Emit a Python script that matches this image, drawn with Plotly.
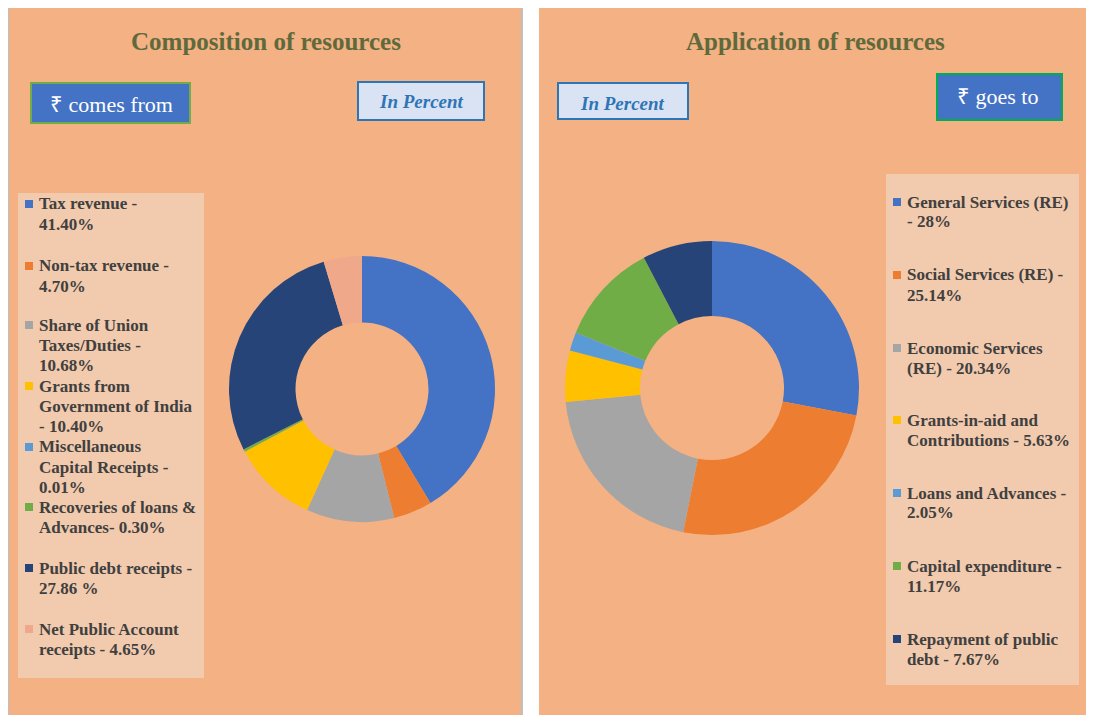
import plotly.graph_objects as go

W, H = 1094, 715
OFF = 8  # page body margin

# Composition of resources (receipts)
src_labels = ["Tax revenue", "Non-tax revenue", "Share of Union Taxes/Duties",
              "Grants from Government of India", "Miscellaneous Capital Receipts",
              "Recoveries of loans & Advances", "Public debt receipts",
              "Net Public Account receipts"]
src_values = [41.40, 4.70, 10.68, 10.40, 0.01, 0.30, 27.86, 4.65]
src_legend = [["Tax revenue -", "41.40%"],
              ["Non-tax revenue -", "4.70%"],
              ["Share of Union", "Taxes/Duties -", "10.68%"],
              ["Grants from", "Government of India", "- 10.40%"],
              ["Miscellaneous", "Capital Receipts -", "0.01%"],
              ["Recoveries of loans &", "Advances- 0.30%"],
              ["Public debt receipts -", "27.86 %"],
              ["Net Public Account", "receipts - 4.65%"]]
src_colors = ["#4472C4", "#ED7D31", "#A5A5A5", "#FFC000", "#5B9BD5",
              "#70AD47", "#264478", "#F0A88A"]

# Application of resources (expenditure)
app_labels = ["General Services (RE)", "Social Services (RE)", "Economic Services (RE)",
              "Grants-in-aid and Contributions", "Loans and Advances",
              "Capital expenditure", "Repayment of public debt"]
app_values = [28.00, 25.14, 20.34, 5.63, 2.05, 11.17, 7.67]
app_legend = [["General Services (RE)", "- 28%"],
              ["Social Services (RE) -", "25.14%"],
              ["Economic Services", "(RE) - 20.34%"],
              ["Grants-in-aid and", "Contributions - 5.63%"],
              ["Loans and Advances -", "2.05%"],
              ["Capital expenditure -", "11.17%"],
              ["Repayment of public", "debt - 7.67%"]]
app_colors = ["#4472C4", "#ED7D31", "#A5A5A5", "#FFC000", "#5B9BD5",
              "#70AD47", "#264478"]

BG = "#F4B183"
LEG_BG = "#F2CAAD"
TITLE_C = "#5F6A3C"
TEXT_C = "#404040"
SERIF = "Liberation Serif"


def px(x):
    return (x - OFF) / W


def py(y):
    return 1 - (y - OFF) / H


def dom(cx, cy, r):
    return dict(x=[px(cx - r), px(cx + r)], y=[py(cy + r), py(cy - r)])


fig = go.Figure()
fig.add_trace(go.Pie(labels=src_labels, values=src_values, hole=0.5, sort=False,
                     direction="clockwise", rotation=0, textinfo="none",
                     marker=dict(colors=src_colors, line=dict(width=0)),
                     domain=dom(362, 389, 133), showlegend=False))
fig.add_trace(go.Pie(labels=app_labels, values=app_values, hole=0.49, sort=False,
                     direction="clockwise", rotation=0, textinfo="none",
                     marker=dict(colors=app_colors, line=dict(width=0)),
                     domain=dom(712, 388, 147), showlegend=False))

shapes = []
annotations = []


def rect(x0, y0, x1, y1, fill, line_color=None, lw=0):
    shapes.append(dict(type="rect", xref="paper", yref="paper",
                       x0=px(x0), x1=px(x1), y0=py(y1), y1=py(y0),
                       fillcolor=fill, layer="below",
                       line=dict(color=line_color or fill, width=lw)))


def text(x, y, s, size, color, xanchor="center", bold=False, italic=False):
    if bold:
        s = "<b>" + s + "</b>"
    if italic:
        s = "<i>" + s + "</i>"
    annotations.append(dict(x=px(x), y=py(y), xref="paper", yref="paper", text=s,
                            showarrow=False, xanchor=xanchor, yanchor="middle",
                            font=dict(family=SERIF, size=size, color=color)))


# panels
rect(8, 5, 522, 720, BG, "#BFBFBF", 2)
rect(539, 7, 1091, 720, BG)
shapes.append(dict(type="line", xref="paper", yref="paper", x0=px(522), x1=px(537),
                   y0=py(5), y1=py(5), line=dict(color="black", width=1.5)))

# titles
text(266, 41, "Composition of resources", 25, TITLE_C, bold=True)
text(815, 41, "Application of resources", 25, TITLE_C, bold=True)

# boxes
rect(31, 83, 190, 123, "#4472C4", "#70AD47", 2)
text(111, 104, "₹ comes from", 22, "white")
rect(358, 82, 484, 120, "#DAE3F3", "#2E75B6", 2)
text(421, 102, "In Percent", 19, "#2E75B6", bold=True, italic=True)
rect(558, 83, 688, 119, "#DAE3F3", "#2E75B6", 2)
text(622, 103, "In Percent", 19, "#2E75B6", bold=True, italic=True)
rect(937, 74, 1062, 120, "#4472C4", "#00B050", 2)
text(997, 97, "₹ goes to", 22, "white")


def legend(x0, y0, x1, y1, items, colors, first_y, tx):
    rect(x0, y0, x1, y1, LEG_BG)
    for lines, c, y in zip(items, colors, first_y):
        rect(tx - 12, y - 4, tx - 4, y + 4, c)
        for k, s in enumerate(lines):
            text(tx, y + 20 * k, s, 17, TEXT_C, xanchor="left", bold=True)


legend(18, 193, 204, 678, src_legend, src_colors,
       [204, 266, 325, 386, 447, 507, 568, 629], 37)
legend(886, 174, 1079, 685, app_legend, app_colors,
       [202, 275, 348, 420, 493, 566, 639], 905)

fig.update_layout(width=W, height=H, margin=dict(l=0, r=0, t=0, b=0),
                  paper_bgcolor="white", plot_bgcolor="white",
                  shapes=shapes, annotations=annotations)
fig.write_html("out.html")
